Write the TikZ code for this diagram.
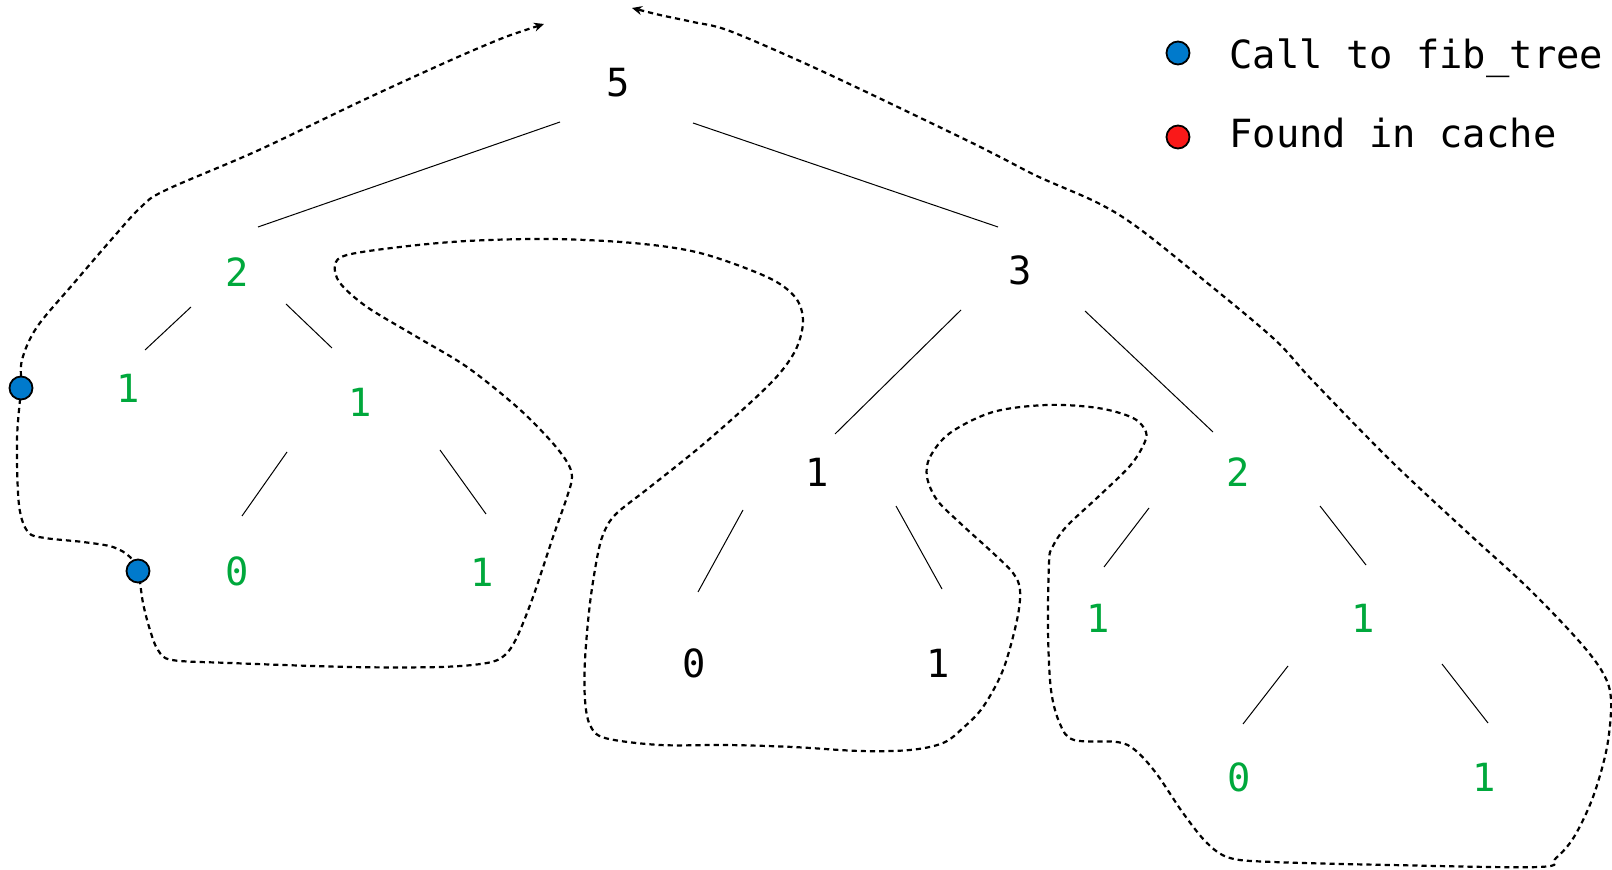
\documentclass[tikz,border=0pt]{standalone}
\usepackage{fontspec}
\newfontfamily\djmono{DejaVu Sans Mono}
\usetikzlibrary{calc,arrows.meta}
\definecolor{callblue}{RGB}{0,122,204}
\definecolor{cachered}{RGB}{250,25,25}
\definecolor{fibgreen}{RGB}{0,168,60}
\tikzset{
  val/.style={inner sep=0pt, font=\djmono\fontsize{19.4}{23}\selectfont},
  gval/.style={val, text=fibgreen},
  edge/.style={line width=0.5pt},
  trace/.style={line width=1.1pt, dash pattern=on 2.6pt off 2pt,
    {Stealth[length=5pt,width=4.5pt]}-{Stealth[length=5pt,width=4.5pt]}},
  calldot/.style={circle, draw=black, line width=0.9pt, fill=callblue, minimum size=11.5pt, inner sep=0pt},
  cachedot/.style={calldot, fill=cachered},
  legend/.style={val, anchor=base west}
}
\begin{document}
\begin{tikzpicture}[x=0.5pt,y=-0.5pt]
\useasboundingbox (0,0) rectangle (1612,870);
% tree values
\node[val]  (n5)    at (618,83)  {5};
\node[gval] (nL2)   at (237,272) {2};
\node[val]  (nR3)   at (1020,270) {3};
\node[gval] (nLL1)  at (128,388) {1};
\node[gval] (nLR1)  at (360,402) {1};
\node[gval] (nLR0)  at (237,571) {0};
\node[gval] (nLR1b) at (482,572) {1};
\node[val]  (nR1)   at (817,472) {1};
\node[gval] (nR2)   at (1238,472) {2};
\node[val]  (nR10)  at (694,663) {0};
\node[val]  (nR11)  at (938,663) {1};
\node[gval] (nR21)  at (1098,618) {1};
\node[gval] (nR22)  at (1363,618) {1};
\node[gval] (nR220) at (1239,777) {0};
\node[gval] (nR221) at (1484,777) {1};
% tree edges
\draw[edge] ($(n5)+(-58,39)$) -- ($(nL2)+(21,-45)$);
\draw[edge] ($(n5)+(75,40)$) -- ($(nR3)+(-22,-43)$);
\draw[edge] ($(nL2)+(-46,35)$) -- ($(nLL1)+(17,-38)$);
\draw[edge] ($(nL2)+(49,32)$) -- ($(nLR1)+(-28,-54)$);
\draw[edge] ($(nLR1)+(-73,50)$) -- ($(nLR0)+(5,-55)$);
\draw[edge] ($(nLR1)+(80,48)$) -- ($(nLR1b)+(4,-58)$);
\draw[edge] ($(nR3)+(-59,40)$) -- ($(nR1)+(18,-38)$);
\draw[edge] ($(nR3)+(65,41)$) -- ($(nR2)+(-25,-40)$);
\draw[edge] ($(nR1)+(-74,38)$) -- ($(nR10)+(4,-71)$);
\draw[edge] ($(nR1)+(79,34)$) -- ($(nR11)+(4,-74)$);
\draw[edge] ($(nR2)+(-89,36)$) -- ($(nR21)+(6,-51)$);
\draw[edge] ($(nR2)+(82,34)$) -- ($(nR22)+(3,-53)$);
\draw[edge] ($(nR22)+(-75,48)$) -- ($(nR220)+(4,-53)$);
\draw[edge] ($(nR22)+(79,46)$) -- ($(nR221)+(4,-54)$);
% trace
\coordinate (d1) at (21,388);
\coordinate (d2) at (138,571);
\draw[trace] plot[smooth, tension=0.55] coordinates {
 (544,24) (481,47) (370,97) (259,150) (166,190) (141,207) (111,240) (74,283)
 (37,327) (22,360) (d1) (17,440) (19,505) (28,532) (45,538) (83,542) (113,547)
 (130,557) (d2) (143,603) (150,630) (158,650) (172,660) (230,663) (350,667)
 (440,667) (487,663) (505,655) (517,637) (533,597) (553,537) (567,497) (572,477)
 (567,462) (550,440) (517,407) (467,367) (417,337) (367,307) (340,283) (335,265)
 (347,255) (400,247) (467,241) (550,239) (633,243) (700,253) (767,277) (795,297)
 (803,320) (797,347) (780,373) (750,403) (700,447) (650,487) (617,513) (605,530)
 (598,553) (590,603) (585,660) (585,700) (590,725) (605,738) (660,745) (727,745)
 (793,747) (860,751) (910,750) (943,743) (963,728) (983,707) (1003,670) (1017,620)
 (1020,590) (1013,573) (993,553) (960,523) (937,500) (927,477) (930,457) (950,433)
 (993,412) (1047,405) (1098,408) (1133,418) (1146,432) (1143,446) (1129,467)
 (1098,497) (1066,527) (1052,548) (1049,563) (1048,630) (1051,690) (1060,724)
 (1074,740) (1117,742) (1135,750) (1156,773) (1183,813) (1207,843) (1230,858)
 (1273,862) (1390,865) (1539,867) (1556,858) (1574,837) (1593,797) (1607,747)
 (1611,700) (1603,673) (1578,640) (1527,587) (1468,533) (1390,460) (1312,380)
 (1273,338) (1195,273) (1137,227) (1098,203) (1039,177) (1000,157) (960,137)
 (860,89) (793,58) (727,30) (693,22) (660,15) (632,8)};
\node[calldot] (cd1) at (d1) {};
\node[calldot] (cd2) at (d2) {};
% legend
\node[calldot]  (lg1) at (1178,53) {};
\node[cachedot] (lg2) at (1178,137) {};
\node[legend] (lt1) at (1229,69) {Call to fib\_tree};
\node[legend] (lt2) at (1229,148) {Found in cache};
\end{tikzpicture}
\end{document}
